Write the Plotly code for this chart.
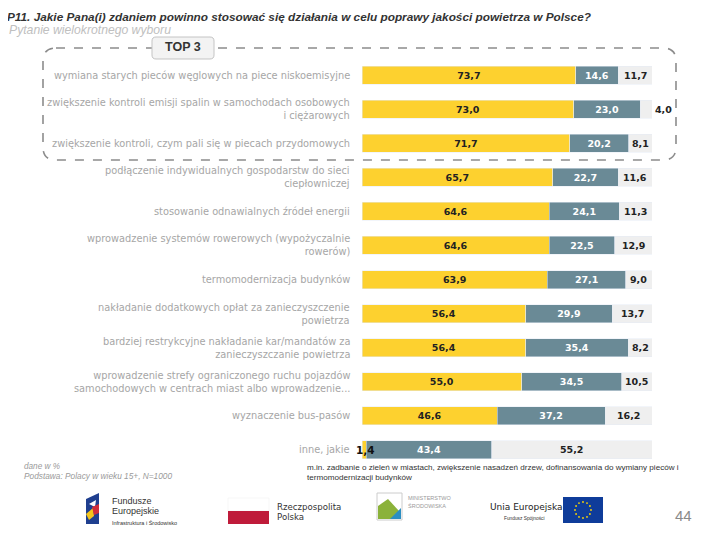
import math
import plotly.graph_objects as go

# ---------------- data ----------------
categories = [
    "wymiana starych pieców węglowych na piece niskoemisyjne",
    "zwiększenie kontroli emisji spalin w samochodach osobowych<br>i ciężarowych",
    "zwiększenie kontroli, czym pali się w piecach przydomowych",
    "podłączenie indywidualnych gospodarstw do sieci<br>ciepłowniczej",
    "stosowanie odnawialnych źródeł energii",
    "wprowadzenie systemów rowerowych (wypożyczalnie<br>rowerów)",
    "termomodernizacja budynków",
    "nakładanie dodatkowych opłat za zanieczyszczenie<br>powietrza",
    "bardziej restrykcyjne nakładanie kar/mandatów za<br>zanieczyszczanie powietrza",
    "wprowadzenie strefy ograniczonego ruchu pojazdów<br>samochodowych w centrach miast albo wprowadzenie...",
    "wyznaczenie bus-pasów",
    "inne, jakie",
]
top3 = [73.7, 73.0, 71.7, 65.7, 64.6, 64.6, 63.9, 56.4, 56.4, 55.0, 46.6, 1.4]
other = [14.6, 23.0, 20.2, 22.7, 24.1, 22.5, 27.1, 29.9, 35.4, 34.5, 37.2, 43.4]
not_chosen = [11.7, 4.0, 8.1, 11.6, 11.3, 12.9, 9.0, 13.7, 8.2, 10.5, 16.2, 55.2]

YELLOW = "#fdd12f"
BLUE = "#6a8a96"
GRAY = "#efefef"

OFF = 8  # page margin of the html body
# plot area in page pixels
PL, PR, PT, PB = 362, 652, 58, 467
W, H = 720, 540
L, R, T, B = PL - OFF, PR - OFF, PT - OFF, PB - OFF


def X(px):
    return (px - PL) / (PR - PL)


def Y(py):
    return (PB - py) / (PB - PT)


def fmt(v):
    return f"{v:.1f}".replace(".", ",")


ids = list(range(len(categories)))
n = len(categories)

fig = go.Figure()
common = dict(orientation="h", y=ids, width=0.53, cliponaxis=False,
              constraintext="none", textangle=0, insidetextanchor="middle",
              hoverinfo="skip")
barfont = dict(family="DejaVu Sans", size=9.5, weight="bold")
fig.add_trace(go.Bar(x=top3, marker_color=YELLOW,
                     text=[fmt(v) if v >= 5 else "" for v in top3], textposition="inside",
                     textfont=dict(color="#222222", **barfont), **common))
fig.add_trace(go.Bar(x=other, marker_color=BLUE,
                     text=[fmt(v) for v in other], textposition="inside",
                     textfont=dict(color="#ffffff", **barfont), **common))
fig.add_trace(go.Bar(x=not_chosen, marker_color=GRAY,
                     text=[fmt(v) if v < 5 else "" for v in not_chosen], textposition="outside",
                     textfont=dict(color="#222222", **barfont), **common))

annotations = []
# category labels
for i, c in enumerate(categories):
    annotations.append(dict(x=X(352), xref="paper", y=i, yref="y", text=c,
                            xanchor="right", yanchor="middle", align="right",
                            showarrow=False,
                            font=dict(family="DejaVu Sans", size=9.8, color="#a6a6a6")))
# grey segment values and small yellow values
for i in ids:
    start = top3[i] + other[i]
    v = not_chosen[i]
    if v >= 5:
        annotations.append(dict(x=start + v / 2, y=i, xref="x", yref="y", text=fmt(v), showarrow=False,
                                xanchor="center", yanchor="middle",
                                font=dict(color="#222222", **barfont)))
    if top3[i] < 5:
        annotations.append(dict(x=top3[i] / 2 + 0.4, y=i, xref="x", yref="y", text=fmt(top3[i]),
                                showarrow=False, xanchor="center", yanchor="middle",
                                font=dict(family="DejaVu Sans", size=10.5, color="#111111", weight="bold")))


def txt(px, py, text, size, color, xanchor="left", family="Liberation Sans", yanchor="middle", **kw):
    annotations.append(dict(x=X(px), y=Y(py), xref="paper", yref="paper", text=text,
                            xanchor=xanchor, yanchor=yanchor, showarrow=False,
                            font=dict(family=family, size=size, color=color), **kw))


txt(5, 8.5, "<b><i>P11. Jakie Pana(i) zdaniem powinno stosować się działania w celu poprawy jakości powietrza w Polsce?</i></b>",
    11.8, "#333333", yanchor="top")
txt(7, 30, "<i>Pytanie wielokrotnego wyboru</i>", 12.2, "#c0c0c0")
txt(183, 47, "<b>TOP 3</b>", 12.5, "#333333", xanchor="center")
txt(22, 466, "<i>dane w %</i>", 8.2, "#9a9a9a")
txt(22, 476, "<i>Podstawa: Polacy w wieku 15+, N=1000</i>", 8.3, "#9a9a9a")
txt(305, 467, "m.in. zadbanie o zieleń w miastach, zwiększenie nasadzeń drzew, dofinansowania do wymiany pieców i",
    8.1, "#333333")
txt(305, 477, "termomodernizacji budynków", 8.1, "#333333")
# logos text
txt(110, 501, "Fundusze", 9, "#333333")
txt(110, 511, "Europejskie", 9, "#333333")
txt(110, 522, "Infrastruktura i Środowisko", 5.5, "#333333")
txt(275, 507, "Rzeczpospolita", 8.6, "#333333", family="DejaVu Sans")
txt(275, 517, "Polska", 8.6, "#333333", family="DejaVu Sans")
txt(406, 498, "MINISTERSTWO", 5.5, "#999999")
txt(406, 505, "ŚRODOWISKA", 5.5, "#999999")
txt(488, 507, "Unia Europejska", 9, "#222222", family="DejaVu Sans")
txt(502, 518, "Fundusz Spójności", 4.8, "#333333")
txt(683, 515, "44", 15, "#8a8a8a", xanchor="center")

shapes = []


def rect(x0, y0, x1, y1, fill, line_color=None, line_width=0):
    shapes.append(dict(type="rect", xref="paper", yref="paper", x0=X(x0), x1=X(x1), y0=Y(y0), y1=Y(y1),
                       fillcolor=fill, line=dict(color=line_color or fill, width=line_width), layer="above"))


def poly(points, fill):
    d = "M " + " L ".join(f"{X(px):.5f},{Y(py):.5f}" for px, py in points) + " Z"
    shapes.append(dict(type="path", xref="paper", yref="paper", path=d, fillcolor=fill,
                       line=dict(width=0), layer="above"))


def rounded(x0, y0, x1, y1, r, **kw):
    p = [
        f"M {X(x0 + r):.5f},{Y(y0):.5f}",
        f"L {X(x1 - r):.5f},{Y(y0):.5f}",
        f"Q {X(x1):.5f},{Y(y0):.5f} {X(x1):.5f},{Y(y0 + r):.5f}",
        f"L {X(x1):.5f},{Y(y1 - r):.5f}",
        f"Q {X(x1):.5f},{Y(y1):.5f} {X(x1 - r):.5f},{Y(y1):.5f}",
        f"L {X(x0 + r):.5f},{Y(y1):.5f}",
        f"Q {X(x0):.5f},{Y(y1):.5f} {X(x0):.5f},{Y(y1 - r):.5f}",
        f"L {X(x0):.5f},{Y(y0 + r):.5f}",
        f"Q {X(x0):.5f},{Y(y0):.5f} {X(x0 + r):.5f},{Y(y0):.5f} Z",
    ]
    shapes.append(dict(type="path", xref="paper", yref="paper", path=" ".join(p), **kw))


# dashed TOP 3 frame
rounded(43, 48, 676, 160, 13, line=dict(color="#8c8c8c", width=1.6, dash="dash"), layer="above")
# TOP 3 box
rounded(152, 37, 214, 59, 4, fillcolor="#f3f3f3", line=dict(color="#c4c4c4", width=1), layer="above")

# Fundusze Europejskie logo
poly([(86, 499), (99, 493), (99, 524), (86, 524)], "#1f3f8f")
poly([(89, 504), (96, 500), (95, 507)], "#ffffff")
poly([(86, 514), (93, 508), (94, 516), (89, 520)], "#f4c51c")
poly([(92, 507), (99, 504), (99, 513), (94, 515)], "#d12d3a")
# Polish flag
rect(228, 498, 269, 511, "#ffffff", "#eeeeee", 0.5)
rect(228, 511, 269, 524, "#bf1b3a")
# Ministry logo
rect(377, 493, 402, 520, "#ffffff", "#cccccc", 1)
poly([(378, 519), (378, 506), (388, 499), (399, 511), (394, 519)], "#8bb23a")
poly([(390, 519), (401, 508), (401, 519)], "#2b8ec2")
# EU flag
rect(563, 497, 603, 523, "#0f3c9a")
for k in range(12):
    a = 2 * math.pi * k / 12
    cx, cy = 583 + 8 * math.cos(a), 510 + 8 * math.sin(a)
    shapes.append(dict(type="circle", xref="paper", yref="paper",
                       x0=X(cx - 0.9), x1=X(cx + 0.9), y0=Y(cy + 0.9), y1=Y(cy - 0.9),
                       fillcolor="#ffd800", line=dict(width=0), layer="above"))

fig.update_layout(
    width=W, height=H,
    margin=dict(l=L, r=W - R, t=T, b=H - B, pad=0),
    barmode="stack", bargap=0.47,
    showlegend=False,
    paper_bgcolor="#ffffff", plot_bgcolor="#ffffff",
    xaxis=dict(range=[0, 100], visible=False, fixedrange=True),
    yaxis=dict(range=[n - 0.5, -0.5], visible=False, fixedrange=True),
    annotations=annotations,
    shapes=shapes,
)

fig.write_html("out.html")
